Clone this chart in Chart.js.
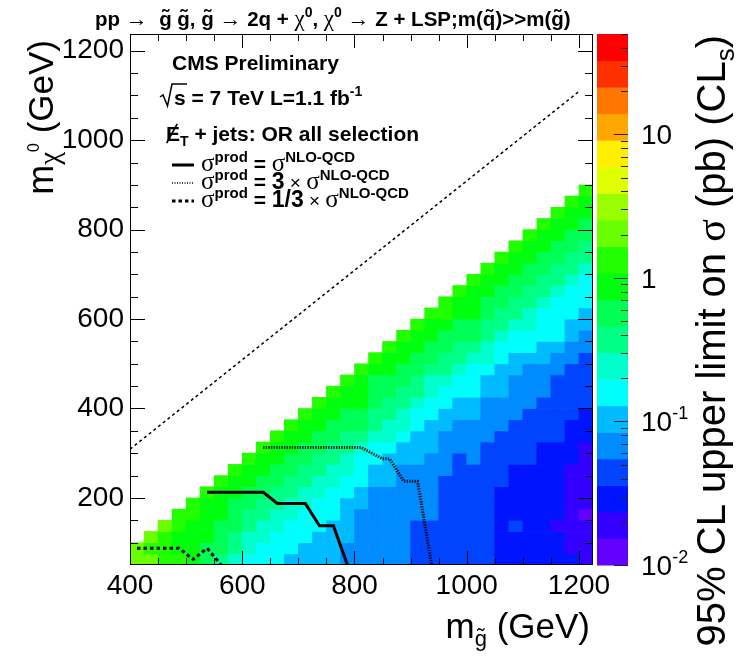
<!DOCTYPE html>
<html>
<head>
<meta charset="utf-8">
<script src="https://cdn.jsdelivr.net/npm/chart.js@4.4.1/dist/chart.umd.min.js"></script>
<style>
  html, body { margin: 0; padding: 0; background: #fff; }
  canvas { display: block; }
</style>
</head>
<body>
<canvas id="limit-map" width="736" height="656"></canvas>
<script>
// gluino mass bins (lower edges, GeV) and LSP mass bins (lower edges, GeV)
const gluinoBins = [400, 425, 450, 475, 500, 525, 550, 575, 600, 625, 650, 675, 700, 725, 750, 775, 800,
                    825, 850, 875, 900, 925, 950, 975, 1000, 1025, 1050, 1075, 1100, 1125, 1150, 1175, 1200];
const lspBins = [50, 75, 100, 125, 150, 175, 200, 225, 250, 275, 300, 325, 350, 375, 400, 425, 450,
                 475, 500, 525, 550, 575, 600, 625, 650, 675, 700, 725, 750, 775, 800, 825, 850, 875];
const binWidth = 25;

// 95% CL upper limit on sigma (pb), one list per gluino bin, from the lowest LSP bin upward
const limitPb = [
  [2.0, 2.0],
  [2.0, 1.3, 2.0],
  [1.3, 1.3, 1.3, 2.0],
  [1.3, 0.87, 0.87, 1.3, 1.3],
  [0.87, 0.87, 0.87, 0.87, 1.3, 1.3],
  [0.57, 0.57, 0.87, 0.87, 0.87, 0.87, 1.3],
  [0.37, 0.57, 0.57, 0.57, 0.87, 0.87, 0.87, 1.3],
  [0.24, 0.37, 0.37, 0.57, 0.57, 0.57, 0.87, 0.87, 1.3],
  [0.16, 0.24, 0.24, 0.37, 0.37, 0.57, 0.57, 0.87, 0.87, 1.3],
  [0.16, 0.16, 0.24, 0.24, 0.37, 0.37, 0.57, 0.57, 0.87, 0.87, 1.3],
  [0.16, 0.16, 0.16, 0.24, 0.24, 0.37, 0.37, 0.57, 0.57, 0.87, 0.87, 1.3],
  [0.10, 0.16, 0.16, 0.16, 0.24, 0.24, 0.37, 0.37, 0.57, 0.57, 0.87, 0.87, 1.3],
  [0.10, 0.10, 0.16, 0.16, 0.16, 0.24, 0.24, 0.37, 0.37, 0.57, 0.57, 0.87, 0.87, 1.3],
  [0.10, 0.10, 0.10, 0.16, 0.16, 0.16, 0.24, 0.24, 0.37, 0.37, 0.57, 0.57, 0.87, 0.87, 1.3],
  [0.10, 0.10, 0.10, 0.10, 0.16, 0.16, 0.16, 0.24, 0.24, 0.37, 0.37, 0.57, 0.57, 0.87, 0.87, 1.3],
  [0.068, 0.068, 0.10, 0.10, 0.10, 0.10, 0.16, 0.16, 0.24, 0.24, 0.37, 0.37, 0.57, 0.57, 0.87, 0.87, 1.3],
  [0.068, 0.068, 0.068, 0.068, 0.068, 0.10, 0.10, 0.16, 0.16, 0.16, 0.24, 0.37, 0.57, 0.57, 0.87, 0.87, 0.87, 1.3],
  [0.068, 0.068, 0.068, 0.068, 0.068, 0.068, 0.068, 0.10, 0.10, 0.16, 0.16, 0.24, 0.37, 0.37, 0.57, 0.57, 0.57, 0.87, 1.3],
  [0.068, 0.068, 0.068, 0.068, 0.068, 0.068, 0.068, 0.10, 0.10, 0.10, 0.16, 0.24, 0.24, 0.37, 0.37, 0.57, 0.57, 0.87, 0.87, 1.3],
  [0.068, 0.068, 0.068, 0.068, 0.068, 0.068, 0.068, 0.068, 0.068, 0.10, 0.10, 0.16, 0.24, 0.24, 0.37, 0.37, 0.57, 0.57, 0.87, 0.87, 1.3],
  [0.044, 0.044, 0.044, 0.044, 0.068, 0.068, 0.068, 0.068, 0.068, 0.10, 0.10, 0.10, 0.16, 0.16, 0.24, 0.37, 0.37, 0.57, 0.57, 0.87, 0.87, 1.3],
  [0.044, 0.044, 0.044, 0.044, 0.068, 0.068, 0.068, 0.068, 0.068, 0.068, 0.10, 0.10, 0.10, 0.16, 0.16, 0.24, 0.24, 0.37, 0.57, 0.57, 0.87, 0.87, 1.3],
  [0.044, 0.044, 0.044, 0.044, 0.044, 0.044, 0.044, 0.044, 0.068, 0.068, 0.068, 0.068, 0.10, 0.10, 0.16, 0.16, 0.24, 0.37, 0.37, 0.57, 0.57, 0.87, 1.3, 1.3],
  [0.044, 0.044, 0.044, 0.044, 0.044, 0.044, 0.044, 0.044, 0.044, 0.044, 0.068, 0.068, 0.068, 0.10, 0.10, 0.16, 0.16, 0.24, 0.37, 0.37, 0.57, 0.57, 0.87, 0.87, 1.3],
  [0.044, 0.044, 0.044, 0.044, 0.044, 0.044, 0.044, 0.044, 0.044, 0.068, 0.068, 0.068, 0.068, 0.10, 0.10, 0.16, 0.16, 0.16, 0.24, 0.37, 0.57, 0.57, 0.87, 0.87, 0.87, 1.3],
  [0.044, 0.044, 0.044, 0.044, 0.044, 0.044, 0.044, 0.044, 0.044, 0.044, 0.044, 0.068, 0.068, 0.068, 0.068, 0.10, 0.10, 0.16, 0.24, 0.24, 0.37, 0.37, 0.57, 0.57, 0.87, 0.87, 1.3],
  [0.028, 0.028, 0.028, 0.028, 0.028, 0.028, 0.028, 0.044, 0.044, 0.044, 0.044, 0.044, 0.068, 0.068, 0.068, 0.10, 0.10, 0.10, 0.16, 0.16, 0.24, 0.37, 0.37, 0.57, 0.57, 0.87, 0.87, 1.3],
  [0.028, 0.028, 0.028, 0.044, 0.028, 0.028, 0.028, 0.028, 0.028, 0.044, 0.044, 0.044, 0.044, 0.068, 0.068, 0.068, 0.068, 0.10, 0.10, 0.16, 0.16, 0.24, 0.37, 0.37, 0.57, 0.57, 0.87, 0.87, 1.3],
  [0.028, 0.028, 0.028, 0.028, 0.028, 0.028, 0.028, 0.028, 0.028, 0.044, 0.044, 0.044, 0.044, 0.044, 0.068, 0.068, 0.068, 0.068, 0.10, 0.16, 0.16, 0.24, 0.24, 0.37, 0.37, 0.57, 0.57, 0.87, 0.87, 1.3],
  [0.028, 0.028, 0.028, 0.028, 0.028, 0.028, 0.028, 0.028, 0.028, 0.028, 0.028, 0.044, 0.044, 0.044, 0.044, 0.068, 0.068, 0.068, 0.10, 0.10, 0.16, 0.16, 0.16, 0.24, 0.37, 0.37, 0.57, 0.57, 0.87, 0.87, 1.3],
  [0.028, 0.028, 0.028, 0.019, 0.028, 0.028, 0.028, 0.028, 0.028, 0.028, 0.028, 0.044, 0.044, 0.044, 0.044, 0.044, 0.044, 0.068, 0.068, 0.10, 0.16, 0.16, 0.16, 0.16, 0.24, 0.37, 0.37, 0.57, 0.57, 0.87, 0.87, 1.3],
  [0.028, 0.019, 0.019, 0.019, 0.019, 0.019, 0.019, 0.019, 0.019, 0.028, 0.028, 0.028, 0.028, 0.044, 0.044, 0.044, 0.044, 0.044, 0.068, 0.068, 0.10, 0.10, 0.16, 0.16, 0.16, 0.24, 0.37, 0.37, 0.57, 0.57, 0.87, 0.87, 1.3],
  [0.019, 0.019, 0.019, 0.019, 0.013, 0.019, 0.019, 0.019, 0.019, 0.019, 0.019, 0.028, 0.028, 0.028, 0.044, 0.044, 0.044, 0.044, 0.044, 0.068, 0.068, 0.10, 0.10, 0.16, 0.16, 0.16, 0.24, 0.37, 0.37, 0.57, 0.57, 0.87, 0.87, 1.3]
];

// exclusion contours (gluino mass, LSP mass)
const nloX = [537.5, 637.5, 662.5, 712.5, 737.5, 762.5, 787.5];
const nloY = [212.5, 212.5, 187.5, 187.5, 137.5, 137.5, 50];
const times3X = [637.5, 812.5, 850, 862.5, 887.5, 912.5, 937.5];
const times3Y = [312.5, 312.5, 287.5, 287.5, 237.5, 237.5, 50];
const thirdX = [412.5, 487.5, 512.5, 537.5, 562.5];
const thirdY = [87.5, 87.5, 62.5, 87.5, 50];
const diagX = [400, 1200];
const diagY = [309, 1109];

const xTicks = [400, 600, 800, 1000, 1200];
const yTicks = [200, 400, 600, 800, 1000, 1200];
const zTicks = [0.01, 0.1, 1, 10];
const zTickLabels = [["10", "-2"], ["10", "-1"], ["1", ""], ["10", ""]];

const zMin = 0.01, zMax = 50, nLevels = 20;

const SANS = "'Liberation Sans', Arial, Helvetica, sans-serif";
const SERIF = "'Liberation Serif', 'Times New Roman', serif";

// ROOT "pretty" palette: 49 hues violet -> red, plus red
function paletteColor(i) {
  if (i >= 49) return "rgb(255,0,0)";
  const hue = 280 - (i + 1) * 5.6;
  return "hsl(" + hue + ",100%,50%)";
}
function levelColor(k) {
  return paletteColor(Math.floor((k + 0.99) * 50 / nLevels));
}
function zColor(v) {
  let k = Math.floor(Math.log10(v / zMin) / Math.log10(zMax / zMin) * nLevels);
  k = Math.max(0, Math.min(nLevels - 1, k));
  return levelColor(k);
}

const cells = [], cellColors = [];
limitPb.forEach((col, c) => {
  col.forEach((v, r) => {
    cells.push({ x: gluinoBins[c] + binWidth / 2, y: [lspBins[r], lspBins[r] + binWidth] });
    cellColors.push(zColor(v));
  });
});

function contour(xs, ys, width, dash) {
  return {
    type: "line",
    data: xs.map((x, i) => ({ x: x, y: ys[i] })),
    borderColor: "#000",
    borderWidth: width,
    borderDash: dash,
    borderCapStyle: "butt",
    pointRadius: 0,
    fill: false,
    tension: 0
  };
}

// rich text: list of segments drawn one after the other
const fnt = (size, bold, serif) => (bold ? "bold " : "") + size + "px " + (serif ? SERIF : SANS);
const seg = (t, size, o) => Object.assign({ t: t, size: size, font: fnt(size, o && o.b, o && o.serif), dy: 0 }, o || {});
function rich(ctx, segs, x, y, align) {
  let total = 0;
  segs.forEach(s => { ctx.font = s.font; s.w = ctx.measureText(s.t).width; total += s.w; });
  let cx = align === "right" ? x - total : (align === "center" ? x - total / 2 : x);
  segs.forEach(s => {
    ctx.font = s.font;
    const by = y + s.dy;
    ctx.fillText(s.t, cx, by);
    if (s.tilde) {
      const tw = ctx.measureText("\u02DC").width;
      ctx.fillText("\u02DC", cx + (s.w - tw) / 2, by - s.size * 0.1);
    }
    if (s.slash) {
      ctx.save();
      ctx.lineWidth = 1.6;
      ctx.beginPath();
      ctx.moveTo(cx + s.w * 0.05, by + 2);
      ctx.lineTo(cx + s.w * 0.8, by - s.size * 0.82);
      ctx.stroke();
      ctx.restore();
    }
    cx += s.w;
  });
  return total;
}

const decor = {
  id: "decor",
  afterDatasetsDraw(chart) {
    const { ctx, chartArea: a, scales } = chart;
    const x = scales.x, y = scales.y, z = scales.z;
    ctx.save();
    ctx.strokeStyle = "#000";
    ctx.lineWidth = 1;
    const seg2 = (x0, y0, x1, y1) => { ctx.beginPath(); ctx.moveTo(x0, y0); ctx.lineTo(x1, y1); ctx.stroke(); };
    ctx.strokeRect(a.left + 0.5, a.top + 0.5, a.right - a.left - 1, a.bottom - a.top - 1);
    for (let v = 450; v <= 1200; v += 50) {
      const px = Math.round(x.getPixelForValue(v)) + 0.5;
      const len = xTicks.includes(v) ? 14 : 7;
      seg2(px, a.bottom, px, a.bottom - len);
      seg2(px, a.top, px, a.top + len);
    }
    for (let v = 100; v <= 1200; v += 50) {
      const py = Math.round(y.getPixelForValue(v)) + 0.5;
      const len = yTicks.includes(v) ? 15 : 8;
      seg2(a.left, py, a.left + len, py);
      seg2(a.right, py, a.right - len, py);
    }
    // colour scale
    const bl = a.right + 4, br = a.right + 35;
    for (let k = 0; k < nLevels; k++) {
      const lo = zMin * Math.pow(zMax / zMin, k / nLevels);
      const hi = zMin * Math.pow(zMax / zMin, (k + 1) / nLevels);
      const y0 = z.getPixelForValue(lo), y1 = z.getPixelForValue(hi);
      ctx.fillStyle = levelColor(k);
      ctx.fillRect(bl, y1, br - bl, y0 - y1 + 0.5);
    }
    ctx.strokeStyle = "#222";
    zTicks.forEach(d => {
      for (let m = 1; m <= 9; m++) {
        const v = d * m;
        if (v > zMax) break;
        const py = Math.round(z.getPixelForValue(v)) + 0.5;
        seg2(br, py, br - (m === 1 ? 14 : 7), py);
      }
    });
    ctx.restore();
  },
  afterDraw(chart) {
    const { ctx, chartArea: a, scales } = chart;
    const z = scales.z;
    ctx.save();
    ctx.fillStyle = "#000";
    ctx.strokeStyle = "#000";
    ctx.textBaseline = "alphabetic";

    // colour scale labels
    zTicks.forEach((v, i) => {
      const py = z.getPixelForValue(v);
      const lab = zTickLabels[i];
      const segs = [seg(lab[0], 28)];
      if (lab[1]) segs.push(seg(lab[1], 18, { dy: -12 }));
      rich(ctx, segs, a.right + 48, py + 10, "left");
    });

    // title
    const bt = t => seg(t, 20.5, { b: true });
    const gt = t => seg(t, 20.5, { b: true, tilde: true });
    const arr = () => seg("\u2192", 22);
    const chi = () => seg("\u03C7", 23, { serif: true });
    const sup = () => seg("0", 14, { b: true, dy: -9 });
    rich(ctx, [bt("pp "), arr(), bt("  "), gt("g"), bt(" "), gt("g"), bt(", "), gt("g"), bt(" "), arr(),
               bt(" 2q + "), chi(), sup(), bt(", "), chi(), sup(), bt(" "), arr(),
               bt(" Z + LSP;m("), gt("q"), bt(")>>m("), gt("g"), bt(")")], 95, 26, "left");

    // text block inside the frame
    rich(ctx, [seg("CMS Preliminary", 21, { b: true })], 172, 70, "left");
    ctx.lineWidth = 1.5;
    ctx.beginPath();
    ctx.moveTo(160, 97); ctx.lineTo(163, 95); ctx.lineTo(167.5, 106); ctx.lineTo(172, 84); ctx.lineTo(187, 84);
    ctx.stroke();
    rich(ctx, [seg("s = 7 TeV L=1.1 fb", 21, { b: true }), seg("-1", 14, { b: true, dy: -9 })], 174, 105, "left");
    rich(ctx, [seg("E", 21, { b: true, slash: true }), seg("T", 14, { b: true, dy: 5 }),
               seg(" + jets: OR all selection", 21, { b: true })], 166, 141, "left");

    const sig = () => seg("\u03C3", 25, { serif: true });
    const prod = () => seg("prod", 15, { b: true, dy: -9 });
    const nlo = () => seg("NLO-QCD", 15, { b: true, dy: -9 });
    const eq = () => seg(" = ", 21, { b: true });
    const rows = [
      { y: 171, dash: [], w: 3, segs: [sig(), prod(), eq(), sig(), nlo()] },
      { y: 189, dash: [1, 1.5], w: 1.5, segs: [sig(), prod(), eq(), seg("3", 23, { b: true }), seg(" \u00D7 ", 19), sig(), nlo()] },
      { y: 207, dash: [3.5, 3], w: 3, segs: [sig(), prod(), eq(), seg("1/3", 23, { b: true }), seg(" \u00D7 ", 19), sig(), nlo()] }
    ];
    rows.forEach(r => {
      ctx.save();
      ctx.lineWidth = r.w;
      ctx.setLineDash(r.dash);
      ctx.beginPath();
      ctx.moveTo(172, r.y - 6);
      ctx.lineTo(194, r.y - 6);
      ctx.stroke();
      ctx.restore();
      rich(ctx, r.segs, 201, r.y, "left");
    });

    // x axis title
    rich(ctx, [seg("m", 35), seg("g", 22, { dy: 8, tilde: true }), seg(" (GeV)", 35)], 590, 638, "right");

    // y axis title
    ctx.save();
    ctx.translate(53, 40);
    ctx.rotate(-Math.PI / 2);
    rich(ctx, [seg("m", 36), seg("\u03C7", 29, { serif: true, dy: 6 }), seg("0", 16, { dy: -14 }), seg(" (GeV)", 35)], 0, 0, "right");
    ctx.restore();

    // colour scale title
    ctx.save();
    ctx.translate(725, 35);
    ctx.rotate(-Math.PI / 2);
    rich(ctx, [seg("95% CL upper limit on ", 40), seg("\u03C3", 42, { serif: true }), seg(" (pb) (CL", 40),
               seg("s", 26, { dy: 9 }), seg(")", 40)], 0, 0, "right");
    ctx.restore();
    ctx.restore();
  }
};

new Chart("limit-map", {
  type: "bar",
  data: {
    datasets: [
      contour(diagX, diagY, 1.5, [3, 3]),
      contour(thirdX, thirdY, 3, [3.5, 3]),
      contour(times3X, times3Y, 3, [1.2, 1.4]),
      contour(nloX, nloY, 3, []),
      {
        data: cells,
        backgroundColor: cellColors,
        borderWidth: 0,
        barPercentage: 1,
        categoryPercentage: 1
      }
    ]
  },
  options: {
    responsive: false,
    animation: false,
    layout: { padding: { top: 34, right: 143, bottom: 0, left: 0 } },
    plugins: { legend: { display: false }, tooltip: { enabled: false } },
    scales: {
      x: {
        type: "linear", min: 400, max: 1225, offset: false,
        grid: { display: false, drawTicks: false, offset: false },
        border: { display: false },
        afterBuildTicks: s => { s.ticks = xTicks.map(v => ({ value: v })); },
        afterFit: s => { s.height = 91; },
        ticks: { callback: v => String(v), font: { family: SANS, size: 28 }, color: "#000",
                 padding: 4, maxRotation: 0, autoSkip: false }
      },
      y: {
        type: "linear", min: 50, max: 1237.5,
        grid: { display: false, drawTicks: false },
        border: { display: false },
        afterBuildTicks: s => { s.ticks = yTicks.map(v => ({ value: v })); },
        afterFit: s => { s.width = 130; },
        ticks: { callback: v => String(v), font: { family: SANS, size: 28 }, color: "#000",
                 padding: 6, autoSkip: false }
      },
      z: { type: "logarithmic", axis: "y", position: "right", min: zMin, max: zMax, display: false }
    }
  },
  plugins: [decor]
});
</script>
</body>
</html>
